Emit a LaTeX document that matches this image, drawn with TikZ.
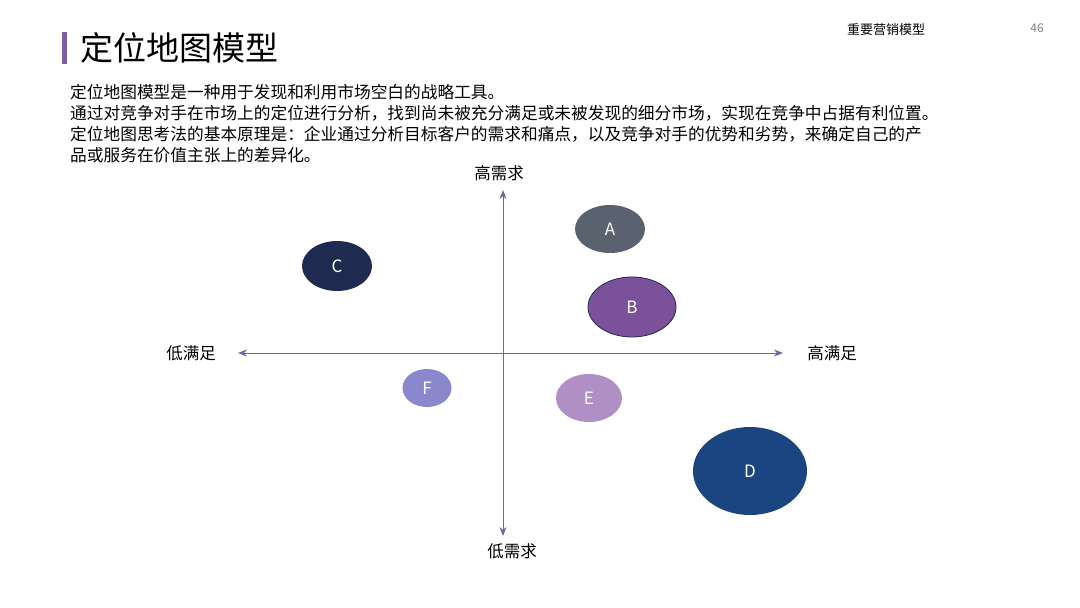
\documentclass[tikz,border=0pt]{standalone}
\usepackage{fontspec}
\setmainfont{Noto Sans CJK SC}
\usetikzlibrary{arrows.meta,shapes.geometric}
\definecolor{axisc}{HTML}{7B5EA7}
\definecolor{cA}{HTML}{5A6270}
\definecolor{cB}{HTML}{7B5299}
\definecolor{cC}{HTML}{1F2A50}
\definecolor{cD}{HTML}{1A4580}
\definecolor{cE}{HTML}{B090C4}
\definecolor{cF}{HTML}{8A87CC}
\begin{document}
\begin{tikzpicture}[x=1pt,y=-1pt,
  para/.style={anchor=west,inner sep=0,font=\fontsize{16.7}{18}\selectfont},
  lab/.style={inner sep=0,font=\fontsize{16.5}{18}\selectfont},
  bub/.style={ellipse,inner sep=0,text=white,font=\fontsize{17}{18}\selectfont},
  ax/.style={axisc,line width=1pt,{Stealth[length=9pt,width=7pt]}-{Stealth[length=9pt,width=7pt]}}]
\useasboundingbox (0,0) rectangle (1080,608);
\fill[white] (0,0) rectangle (1080,608);
\fill[axisc] (62,32) rectangle (67,64);
\node[anchor=west,inner sep=0,font=\fontsize{33}{34}\selectfont] (title) at (80,48) {定位地图模型};
\node[inner sep=0,font=\fontsize{13}{14}\selectfont] (hdr) at (886,30) {重要营销模型};
\node[inner sep=0,text=gray,font=\fontsize{12}{14}\selectfont] (pg) at (1037,28) {46};
\node[para] (l1) at (70,92) {定位地图模型是一种用于发现和利用市场空白的战略工具。};
\node[para] (l2) at (70,113) {通过对竞争对手在市场上的定位进行分析，找到尚未被充分满足或未被发现的细分市场，实现在竞争中占据有利位置。};
\node[para] (l3) at (70,134) {定位地图思考法的基本原理是：企业通过分析目标客户的需求和痛点，以及竞争对手的优势和劣势，来确定自己的产};
\node[para] (l4) at (70,155) {品或服务在价值主张上的差异化。};
\coordinate (vt) at (503,190);
\coordinate (vb) at (503,536);
\coordinate (hl) at (238,353);
\coordinate (hr) at (783,353);
\draw[ax] (vb) -- (vt);
\draw[ax] (hl) -- (hr);
\node[lab] (top) at (499,173) {高需求};
\node[lab] (bot) at (512,551) {低需求};
\node[lab] (lft) at (191,353) {低满足};
\node[lab] (rgt) at (832,353) {高满足};
\node[bub,fill=cA,minimum width=70,minimum height=48] (A) at (610,229) {A};
\node[bub,fill=cC,minimum width=70,minimum height=50] (C) at (337,266) {C};
\node[bub,fill=cB,draw=cC,line width=0.8pt,minimum width=88,minimum height=60] (B) at (632,307) {B};
\node[bub,fill=cF,minimum width=49,minimum height=38] (F) at (427,388) {F};
\node[bub,fill=cE,minimum width=66,minimum height=48] (E) at (589,398) {E};
\node[bub,fill=cD,minimum width=114,minimum height=88] (D) at (750,471) {D};
\end{tikzpicture}
\end{document}
